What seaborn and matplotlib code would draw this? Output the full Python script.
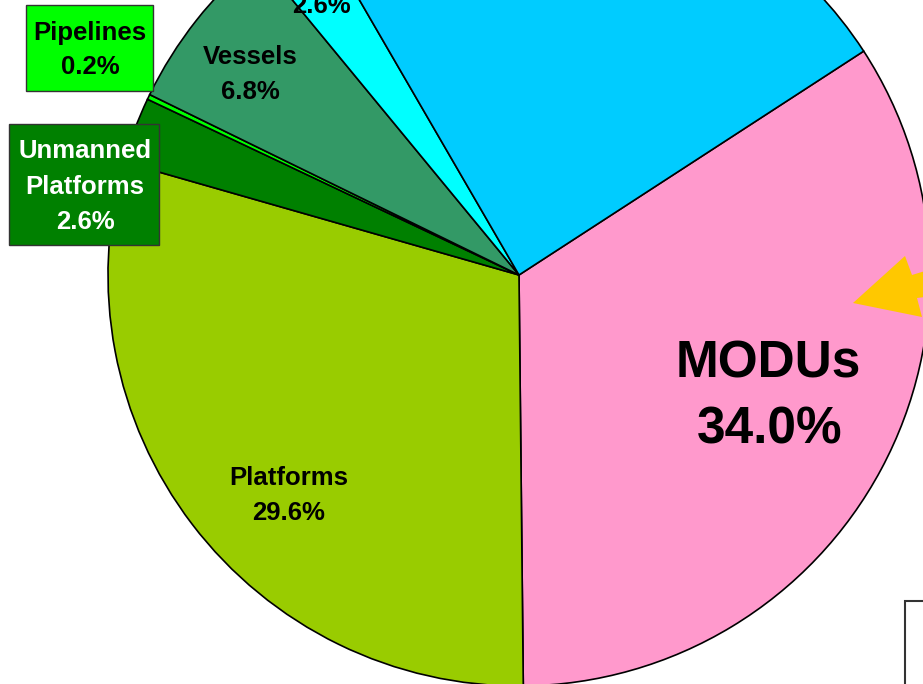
import matplotlib
matplotlib.use("Agg")
import matplotlib.pyplot as plt
import seaborn as sns
from matplotlib.patches import Rectangle, Polygon

# ============================================
# Données (parts en %)
# ============================================
categories = ["MODUs", "Platforms", "Unmanned Platforms", "Pipelines",
              "Vessels", "Other (cyan)", "Other (blue)"]
shares = [34.0, 29.6, 2.6, 0.2, 6.8, 2.6, 24.2]
colors = ["#FF99CC", "#99CC00", "#008000", "#00FF00",
          "#339966", "#00FFFF", "#00CCFF"]

sns.set_style("white")
plt.rcParams['font.family'] = ['Liberation Sans', 'DejaVu Sans']

# Figure en coordonnées "pixels" (y vers le bas = négatif)
fig = plt.figure(figsize=(9.23, 6.84), dpi=100)
ax = fig.add_axes([0, 0, 1, 1])
ax.set_aspect('equal')
ax.axis('off')

ax.pie(shares, colors=colors, startangle=33, counterclock=False,
       center=(519, -275), radius=411,
       wedgeprops={'edgecolor': 'black', 'linewidth': 1.2})
ax.set_xlim(0, 923)
ax.set_ylim(-684, 0)

# Boîtes d'étiquettes
ax.add_patch(Rectangle((26, -91), 127, 86, facecolor="#00FF00",
                       edgecolor="#333333", linewidth=1, zorder=3))
ax.add_patch(Rectangle((9, -245), 150, 121, facecolor="#008000",
                       edgecolor="#333333", linewidth=1, zorder=3))

# Flèche jaune
arrow_pts = [(853, -303), (905, -256), (912, -275), (925, -271),
             (925, -297), (917, -298), (922, -317)]
ax.add_patch(Polygon(arrow_pts, closed=True, facecolor="#FFC800",
                     edgecolor="none", zorder=3))

# Cadre en bas à droite
ax.add_patch(Rectangle((905, -700), 40, 99, facecolor="white",
                       edgecolor="#333333", linewidth=1.5, zorder=3))

# Étiquettes (x centre, ligne de base)
def label(x, y, txt, size=18.5, color="black"):
    ax.text(x, -y, txt, ha='center', va='baseline', fontsize=size,
            fontweight='bold', color=color, zorder=4)

label(90, 40, "Pipelines")
label(90, 74, "0.2%")
label(85, 158, "Unmanned", color="white")
label(85, 194, "Platforms", color="white")
label(85, 229, "2.6%", color="white")
label(250, 64, "Vessels")
label(250, 99, "6.8%")
label(321, 13, "2.6%")
label(289, 485, "Platforms")
label(289, 520, "29.6%")
label(768, 377, "MODUs", size=37)
label(770, 443, "34.0%", size=37)

plt.savefig("out.png", dpi=100)
